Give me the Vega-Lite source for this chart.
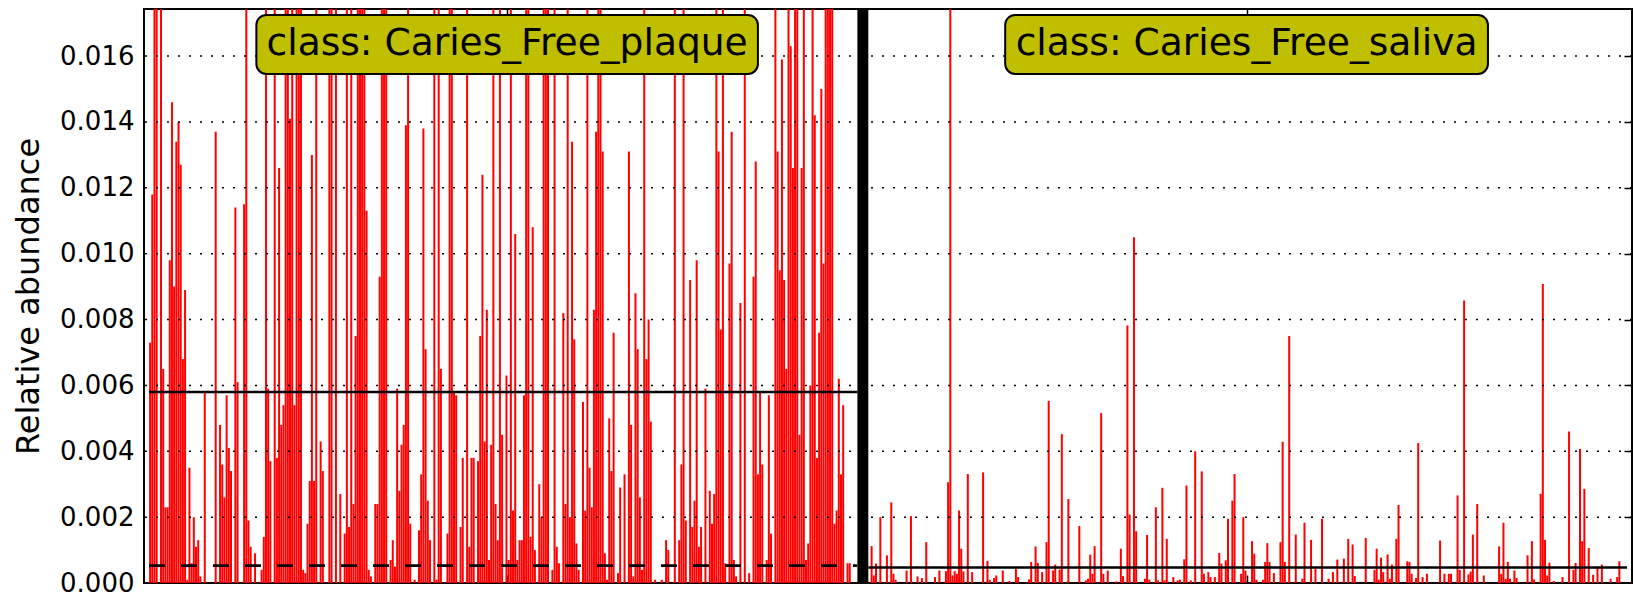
{
  "$schema": "https://vega.github.io/schema/vega-lite/v6.json",
  "width": 1488,
  "height": 574,
  "autosize": "none",
  "padding": {"left": 144, "top": 9, "right": 1, "bottom": 14},
  "background": "white",
  "config": {
    "font": "DejaVu Sans",
    "view": {"stroke": "black", "strokeWidth": 2},
    "axis": {"labelFont": "DejaVu Sans", "titleFont": "DejaVu Sans", "labelColor": "black", "titleColor": "black"}
  },
  "datasets": {
    "bars": [
{"c":"P","x":0,"v":0.0073},{"c":"P","x":1,"v":0.0118},{"c":"P","x":2,"v":0.03},{"c":"P","x":3,"v":0.03},{"c":"P","x":5,"v":0.03},{"c":"P","x":6,"v":0.0065},{"c":"P","x":7,"v":0.0023},{"c":"P","x":8,"v":0.0023},{"c":"P","x":9,"v":0.0098},{"c":"P","x":10,"v":0.0146},{"c":"P","x":11,"v":0.009},{"c":"P","x":12,"v":0.0134},{"c":"P","x":13,"v":0.014},{"c":"P","x":14,"v":0.0127},{"c":"P","x":15,"v":0.0068},{"c":"P","x":16,"v":0.0089},{"c":"P","x":17,"v":0.0001},{"c":"P","x":18,"v":0.0035},{"c":"P","x":19,"v":0.0006},{"c":"P","x":20,"v":0.002},{"c":"P","x":21,"v":0.0011},{"c":"P","x":22,"v":0.0013},{"c":"P","x":23,"v":0.0002},{"c":"P","x":25,"v":0.0058},{"c":"P","x":30,"v":0.0137},{"c":"P","x":32,"v":0.0048},{"c":"P","x":33,"v":0.0036},{"c":"P","x":34,"v":0.0026},{"c":"P","x":35,"v":0.0057},{"c":"P","x":36,"v":0.0041},{"c":"P","x":37,"v":0.0034},{"c":"P","x":39,"v":0.0114},{"c":"P","x":40,"v":0.0061},{"c":"P","x":43,"v":0.0115},{"c":"P","x":44,"v":0.03},{"c":"P","x":45,"v":0.0019},{"c":"P","x":46,"v":0.0011},{"c":"P","x":48,"v":0.0009},{"c":"P","x":51,"v":0.0004},{"c":"P","x":52,"v":0.0014},{"c":"P","x":53,"v":0.03},{"c":"P","x":54,"v":0.0059},{"c":"P","x":55,"v":0.0037},{"c":"P","x":57,"v":0.03},{"c":"P","x":58,"v":0.0038},{"c":"P","x":59,"v":0.0126},{"c":"P","x":60,"v":0.0048},{"c":"P","x":61,"v":0.0054},{"c":"P","x":62,"v":0.03},{"c":"P","x":63,"v":0.03},{"c":"P","x":64,"v":0.0141},{"c":"P","x":65,"v":0.03},{"c":"P","x":66,"v":0.0054},{"c":"P","x":67,"v":0.03},{"c":"P","x":68,"v":0.03},{"c":"P","x":69,"v":0.03},{"c":"P","x":70,"v":0.0004},{"c":"P","x":71,"v":0.0003},{"c":"P","x":72,"v":0.0018},{"c":"P","x":73,"v":0.0031},{"c":"P","x":74,"v":0.013},{"c":"P","x":75,"v":0.0031},{"c":"P","x":76,"v":0.03},{"c":"P","x":78,"v":0.0043},{"c":"P","x":79,"v":0.0034},{"c":"P","x":82,"v":0.03},{"c":"P","x":83,"v":0.03},{"c":"P","x":85,"v":0.03},{"c":"P","x":87,"v":0.0027},{"c":"P","x":89,"v":0.0015},{"c":"P","x":90,"v":0.03},{"c":"P","x":91,"v":0.0017},{"c":"P","x":92,"v":0.03},{"c":"P","x":93,"v":0.0024},{"c":"P","x":94,"v":0.0075},{"c":"P","x":95,"v":0.03},{"c":"P","x":96,"v":0.03},{"c":"P","x":97,"v":0.03},{"c":"P","x":98,"v":0.03},{"c":"P","x":99,"v":0.0113},{"c":"P","x":100,"v":0.0004},{"c":"P","x":101,"v":0.0002},{"c":"P","x":103,"v":0.0024},{"c":"P","x":104,"v":0.0024},{"c":"P","x":105,"v":0.0093},{"c":"P","x":106,"v":0.03},{"c":"P","x":107,"v":0.03},{"c":"P","x":108,"v":0.03},{"c":"P","x":110,"v":0.0007},{"c":"P","x":111,"v":0.0013},{"c":"P","x":112,"v":0.0005},{"c":"P","x":113,"v":0.0059},{"c":"P","x":114,"v":0.0028},{"c":"P","x":115,"v":0.0042},{"c":"P","x":116,"v":0.0048},{"c":"P","x":117,"v":0.0139},{"c":"P","x":118,"v":0.03},{"c":"P","x":119,"v":0.0018},{"c":"P","x":121,"v":0.0001},{"c":"P","x":123,"v":0.0016},{"c":"P","x":124,"v":0.0033},{"c":"P","x":125,"v":0.0138},{"c":"P","x":126,"v":0.0071},{"c":"P","x":127,"v":0.0025},{"c":"P","x":128,"v":0.0013},{"c":"P","x":130,"v":0.03},{"c":"P","x":131,"v":0.0001},{"c":"P","x":132,"v":0.03},{"c":"P","x":133,"v":0.0065},{"c":"P","x":136,"v":0.0015},{"c":"P","x":137,"v":0.03},{"c":"P","x":138,"v":0.03},{"c":"P","x":139,"v":0.0058},{"c":"P","x":140,"v":0.0057},{"c":"P","x":142,"v":0.0017},{"c":"P","x":143,"v":0.0038},{"c":"P","x":145,"v":0.03},{"c":"P","x":146,"v":0.0011},{"c":"P","x":147,"v":0.0038},{"c":"P","x":148,"v":0.0038},{"c":"P","x":150,"v":0.0037},{"c":"P","x":151,"v":0.0075},{"c":"P","x":152,"v":0.0124},{"c":"P","x":153,"v":0.0043},{"c":"P","x":154,"v":0.0083},{"c":"P","x":155,"v":0.0007},{"c":"P","x":156,"v":0.0042},{"c":"P","x":157,"v":0.03},{"c":"P","x":158,"v":0.0024},{"c":"P","x":159,"v":0.0013},{"c":"P","x":160,"v":0.03},{"c":"P","x":161,"v":0.0045},{"c":"P","x":163,"v":0.0063},{"c":"P","x":164,"v":0.0007},{"c":"P","x":165,"v":0.03},{"c":"P","x":166,"v":0.0022},{"c":"P","x":167,"v":0.0106},{"c":"P","x":168,"v":0.0007},{"c":"P","x":169,"v":0.0013},{"c":"P","x":170,"v":0.0013},{"c":"P","x":171,"v":0.0057},{"c":"P","x":172,"v":0.03},{"c":"P","x":173,"v":0.03},{"c":"P","x":174,"v":0.0014},{"c":"P","x":175,"v":0.0108},{"c":"P","x":176,"v":0.001},{"c":"P","x":178,"v":0.003},{"c":"P","x":179,"v":0.002},{"c":"P","x":180,"v":0.03},{"c":"P","x":181,"v":0.03},{"c":"P","x":182,"v":0.03},{"c":"P","x":184,"v":0.0004},{"c":"P","x":185,"v":0.03},{"c":"P","x":186,"v":0.0011},{"c":"P","x":187,"v":0.0006},{"c":"P","x":189,"v":0.0082},{"c":"P","x":190,"v":0.0024},{"c":"P","x":191,"v":0.03},{"c":"P","x":192,"v":0.002},{"c":"P","x":193,"v":0.0134},{"c":"P","x":194,"v":0.0074},{"c":"P","x":195,"v":0.0012},{"c":"P","x":196,"v":0.0004},{"c":"P","x":198,"v":0.0055},{"c":"P","x":199,"v":0.0022},{"c":"P","x":200,"v":0.03},{"c":"P","x":201,"v":0.0035},{"c":"P","x":202,"v":0.0023},{"c":"P","x":203,"v":0.0083},{"c":"P","x":204,"v":0.0137},{"c":"P","x":205,"v":0.03},{"c":"P","x":206,"v":0.03},{"c":"P","x":207,"v":0.0131},{"c":"P","x":208,"v":0.0009},{"c":"P","x":209,"v":0.0001},{"c":"P","x":210,"v":0.005},{"c":"P","x":211,"v":0.0034},{"c":"P","x":212,"v":0.0076},{"c":"P","x":214,"v":0.0003},{"c":"P","x":215,"v":0.0029},{"c":"P","x":217,"v":0.0033},{"c":"P","x":219,"v":0.0131},{"c":"P","x":220,"v":0.0048},{"c":"P","x":221,"v":0.0002},{"c":"P","x":222,"v":0.0088},{"c":"P","x":223,"v":0.0071},{"c":"P","x":224,"v":0.0026},{"c":"P","x":225,"v":0.0004},{"c":"P","x":226,"v":0.03},{"c":"P","x":227,"v":0.0068},{"c":"P","x":228,"v":0.008},{"c":"P","x":229,"v":0.0049},{"c":"P","x":231,"v":0.0001},{"c":"P","x":234,"v":0.0001},{"c":"P","x":236,"v":0.0013},{"c":"P","x":237,"v":0.001},{"c":"P","x":240,"v":0.03},{"c":"P","x":242,"v":0.0013},{"c":"P","x":243,"v":0.0036},{"c":"P","x":244,"v":0.03},{"c":"P","x":245,"v":0.0019},{"c":"P","x":247,"v":0.0092},{"c":"P","x":248,"v":0.0017},{"c":"P","x":249,"v":0.0025},{"c":"P","x":250,"v":0.0098},{"c":"P","x":251,"v":0.0011},{"c":"P","x":252,"v":0.0017},{"c":"P","x":254,"v":0.0059},{"c":"P","x":256,"v":0.0028},{"c":"P","x":257,"v":0.0018},{"c":"P","x":258,"v":0.0027},{"c":"P","x":259,"v":0.03},{"c":"P","x":260,"v":0.0131},{"c":"P","x":261,"v":0.0077},{"c":"P","x":262,"v":0.03},{"c":"P","x":263,"v":0.0006},{"c":"P","x":265,"v":0.0097},{"c":"P","x":266,"v":0.0137},{"c":"P","x":267,"v":0.0007},{"c":"P","x":268,"v":0.0002},{"c":"P","x":270,"v":0.0085},{"c":"P","x":272,"v":0.03},{"c":"P","x":274,"v":0.0003},{"c":"P","x":276,"v":0.0093},{"c":"P","x":277,"v":0.0128},{"c":"P","x":278,"v":0.0033},{"c":"P","x":279,"v":0.0058},{"c":"P","x":280,"v":0.0036},{"c":"P","x":282,"v":0.0007},{"c":"P","x":283,"v":0.0057},{"c":"P","x":284,"v":0.0015},{"c":"P","x":286,"v":0.03},{"c":"P","x":287,"v":0.0131},{"c":"P","x":288,"v":0.0095},{"c":"P","x":289,"v":0.0159},{"c":"P","x":290,"v":0.0092},{"c":"P","x":291,"v":0.0065},{"c":"P","x":292,"v":0.03},{"c":"P","x":293,"v":0.0163},{"c":"P","x":294,"v":0.0126},{"c":"P","x":295,"v":0.03},{"c":"P","x":296,"v":0.03},{"c":"P","x":297,"v":0.0045},{"c":"P","x":298,"v":0.0126},{"c":"P","x":299,"v":0.03},{"c":"P","x":300,"v":0.0007},{"c":"P","x":301,"v":0.0012},{"c":"P","x":302,"v":0.006},{"c":"P","x":303,"v":0.03},{"c":"P","x":304,"v":0.0142},{"c":"P","x":305,"v":0.0038},{"c":"P","x":306,"v":0.0076},{"c":"P","x":307,"v":0.015},{"c":"P","x":308,"v":0.0097},{"c":"P","x":309,"v":0.03},{"c":"P","x":310,"v":0.03},{"c":"P","x":311,"v":0.03},{"c":"P","x":312,"v":0.03},{"c":"P","x":313,"v":0.0018},{"c":"P","x":314,"v":0.0022},{"c":"P","x":315,"v":0.0062},{"c":"P","x":316,"v":0.0033},{"c":"P","x":317,"v":0.0054},{"c":"P","x":319,"v":0.0006},{"c":"P","x":320,"v":0.0006},
{"c":"S","x":330,"v":0.00112},{"c":"S","x":331,"v":0.00023},{"c":"S","x":332,"v":0.00059},{"c":"S","x":334,"v":0.002},{"c":"S","x":337,"v":0.00084},{"c":"S","x":339,"v":0.00245},{"c":"S","x":340,"v":0.00028},{"c":"S","x":341,"v":0.0001},{"c":"S","x":346,"v":0.00038},{"c":"S","x":348,"v":0.00203},{"c":"S","x":351,"v":0.0002},{"c":"S","x":353,"v":0.00015},{"c":"S","x":355,"v":0.00124},{"c":"S","x":359,"v":0.00018},{"c":"S","x":361,"v":0.00038},{"c":"S","x":364,"v":0.00036},{"c":"S","x":365,"v":0.00306},{"c":"S","x":366,"v":0.025},{"c":"S","x":367,"v":0.00023},{"c":"S","x":368,"v":0.00036},{"c":"S","x":369,"v":0.00028},{"c":"S","x":370,"v":0.0022},{"c":"S","x":371,"v":0.00104},{"c":"S","x":372,"v":0.00035},{"c":"S","x":374,"v":0.00331},{"c":"S","x":376,"v":0.00033},{"c":"S","x":381,"v":0.00336},{"c":"S","x":383,"v":0.00067},{"c":"S","x":384,"v":0.0001},{"c":"S","x":386,"v":0.00015},{"c":"S","x":387,"v":0.00023},{"c":"S","x":390,"v":0.00038},{"c":"S","x":393,"v":0.00006},{"c":"S","x":396,"v":0.00043},{"c":"S","x":397,"v":0.00018},{"c":"S","x":402,"v":0.00011},{"c":"S","x":403,"v":0.00064},{"c":"S","x":405,"v":0.00111},{"c":"S","x":406,"v":0.00061},{"c":"S","x":408,"v":0.00033},{"c":"S","x":410,"v":0.00124},{"c":"S","x":411,"v":0.00553},{"c":"S","x":413,"v":0.00038},{"c":"S","x":414,"v":0.00056},{"c":"S","x":416,"v":0.00041},{"c":"S","x":417,"v":0.00452},{"c":"S","x":420,"v":0.00255},{"c":"S","x":425,"v":0.00173},{"c":"S","x":428,"v":0.00008},{"c":"S","x":429,"v":0.00013},{"c":"S","x":430,"v":0.00086},{"c":"S","x":431,"v":0.00028},{"c":"S","x":432,"v":0.00112},{"c":"S","x":435,"v":0.00516},{"c":"S","x":436,"v":0.00028},{"c":"S","x":438,"v":0.00038},{"c":"S","x":442,"v":0.00005},{"c":"S","x":444,"v":0.00104},{"c":"S","x":445,"v":0.00021},{"c":"S","x":447,"v":0.00782},{"c":"S","x":448,"v":0.00208},{"c":"S","x":450,"v":0.0105},{"c":"S","x":451,"v":0.00157},{"c":"S","x":455,"v":0.00013},{"c":"S","x":456,"v":0.00146},{"c":"S","x":457,"v":0.0001},{"c":"S","x":460,"v":0.0023},{"c":"S","x":461,"v":0.00008},{"c":"S","x":463,"v":0.00289},{"c":"S","x":464,"v":0.00008},{"c":"S","x":465,"v":0.00134},{"c":"S","x":468,"v":0.00018},{"c":"S","x":470,"v":0.00008},{"c":"S","x":471,"v":0.0001},{"c":"S","x":473,"v":0.00072},{"c":"S","x":474,"v":0.00296},{"c":"S","x":476,"v":0.00008},{"c":"S","x":478,"v":0.004},{"c":"S","x":481,"v":0.00339},{"c":"S","x":482,"v":0.00028},{"c":"S","x":484,"v":0.00033},{"c":"S","x":485,"v":0.00018},{"c":"S","x":487,"v":0.00018},{"c":"S","x":489,"v":0.00091},{"c":"S","x":490,"v":0.00059},{"c":"S","x":492,"v":0.00069},{"c":"S","x":493,"v":0.00195},{"c":"S","x":495,"v":0.0025},{"c":"S","x":496,"v":0.00331},{"c":"S","x":499,"v":0.00028},{"c":"S","x":500,"v":0.002},{"c":"S","x":501,"v":0.00038},{"c":"S","x":504,"v":0.00127},{"c":"S","x":505,"v":0.00089},{"c":"S","x":506,"v":0.0001},{"c":"S","x":509,"v":0.0001},{"c":"S","x":510,"v":0.00064},{"c":"S","x":511,"v":0.00121},{"c":"S","x":512,"v":0.00064},{"c":"S","x":514,"v":0.0003},{"c":"S","x":517,"v":0.00124},{"c":"S","x":518,"v":0.00429},{"c":"S","x":519,"v":0.00064},{"c":"S","x":521,"v":0.0075},{"c":"S","x":524,"v":0.00147},{"c":"S","x":527,"v":0.00013},{"c":"S","x":528,"v":0.00183},{"c":"S","x":531,"v":0.00131},{"c":"S","x":533,"v":0.00043},{"c":"S","x":536,"v":0.00195},{"c":"S","x":539,"v":0.00013},{"c":"S","x":541,"v":0.00033},{"c":"S","x":543,"v":0.00071},{"c":"S","x":546,"v":0.00074},{"c":"S","x":548,"v":0.00134},{"c":"S","x":550,"v":0.00117},{"c":"S","x":551,"v":0.00021},{"c":"S","x":556,"v":0.00137},{"c":"S","x":560,"v":0.0004},{"c":"S","x":561,"v":0.00104},{"c":"S","x":562,"v":0.0001},{"c":"S","x":563,"v":0.00077},{"c":"S","x":564,"v":0.00033},{"c":"S","x":566,"v":0.00087},{"c":"S","x":567,"v":0.00013},{"c":"S","x":568,"v":0.00056},{"c":"S","x":570,"v":0.00134},{"c":"S","x":571,"v":0.00237},{"c":"S","x":575,"v":0.00066},{"c":"S","x":576,"v":0.00064},{"c":"S","x":577,"v":0.00028},{"c":"S","x":579,"v":0.00015},{"c":"S","x":580,"v":0.00425},{"c":"S","x":582,"v":0.00018},{"c":"S","x":584,"v":0.00028},{"c":"S","x":590,"v":0.00129},{"c":"S","x":592,"v":0.00028},{"c":"S","x":594,"v":0.00028},{"c":"S","x":595,"v":0.00028},{"c":"S","x":598,"v":0.00266},{"c":"S","x":599,"v":0.0004},{"c":"S","x":601,"v":0.00858},{"c":"S","x":603,"v":0.00026},{"c":"S","x":604,"v":0.00035},{"c":"S","x":605,"v":0.00147},{"c":"S","x":607,"v":0.0024},{"c":"S","x":610,"v":0.00023},{"c":"S","x":617,"v":0.00111},{"c":"S","x":618,"v":0.00028},{"c":"S","x":619,"v":0.00183},{"c":"S","x":620,"v":0.00013},{"c":"S","x":621,"v":0.00064},{"c":"S","x":622,"v":0.00013},{"c":"S","x":624,"v":0.00038},{"c":"S","x":625,"v":0.00015},{"c":"S","x":630,"v":0.00084},{"c":"S","x":632,"v":0.00127},{"c":"S","x":633,"v":0.00011},{"c":"S","x":636,"v":0.00271},{"c":"S","x":637,"v":0.00908},{"c":"S","x":638,"v":0.00131},{"c":"S","x":639,"v":0.00023},{"c":"S","x":640,"v":0.00062},{"c":"S","x":642,"v":0.00006},{"c":"S","x":646,"v":0.00018},{"c":"S","x":649,"v":0.0046},{"c":"S","x":651,"v":0.0004},{"c":"S","x":652,"v":0.00061},{"c":"S","x":654,"v":0.00407},{"c":"S","x":655,"v":0.00127},{"c":"S","x":656,"v":0.00286},{"c":"S","x":658,"v":0.00106},{"c":"S","x":660,"v":0.00025},{"c":"S","x":662,"v":0.00048},{"c":"S","x":664,"v":0.00056},{"c":"S","x":668,"v":0.00013},{"c":"S","x":671,"v":0.00018},{"c":"S","x":672,"v":0.00066}
    ],
    "grid": [{"g":0.002},{"g":0.004},{"g":0.006},{"g":0.008},{"g":0.010},{"g":0.012},{"g":0.014},{"g":0.016}],
    "sep": [{"x":323.5,"x2":328.5,"y":0,"y2":0.01743}],
    "stats": [
      {"c":"P","stat":"mean","x":-0.5,"x2":323.5,"v":0.0058},
      {"c":"P","stat":"median","x":-0.5,"x2":323.5,"v":0.00053},
      {"c":"S","stat":"mean","x":328.5,"x2":675.5,"v":0.00047}
    ],
    "labels": [
      {"label":"class: Caries_Free_plaque","x":48.6,"x2":278.0,"xc":163.3,"y":0.01546,"y2":0.01725,"yb":0.01603},
      {"label":"class: Caries_Free_saliva","x":391.1,"x2":611.9,"xc":501.5,"y":0.01546,"y2":0.01725,"yb":0.01603}
    ]
  },
  "layer": [
    {
      "data": {"name": "bars"},
      "mark": {"type": "bar", "color": "#ff0000", "width": 2.0, "clip": true},
      "encoding": {
        "x": {"field": "x", "type": "quantitative", "scale": {"domain": [-0.5, 675.5], "nice": false, "zero": false},
              "axis": {"orient": "bottom", "values": [163.3, 501.5], "labels": false, "ticks": true, "tickSize": -8, "tickColor": "black", "tickWidth": 1.5, "domain": false, "grid": false, "title": null}},
        "y": {"field": "v", "type": "quantitative", "scale": {"domain": [0, 0.01743], "nice": false, "zero": true},
              "axis": {"orient": "left", "values": [0, 0.002, 0.004, 0.006, 0.008, 0.010, 0.012, 0.014, 0.016], "format": ".3f",
                       "labelFontSize": 26, "labelPadding": 10, "ticks": false, "domain": false, "grid": false,
                       "title": "Relative abundance", "titleFontSize": 32, "titleFontWeight": "normal", "titlePadding": 14}}
      }
    },
    {
      "data": {"name": "grid"},
      "mark": {"type": "rule", "color": "black", "strokeWidth": 1.5, "strokeDash": [2, 9]},
      "encoding": {
        "y": {"field": "g", "type": "quantitative", "scale": {"domain": [0, 0.01743], "nice": false}, "axis": null}
      }
    },
    {
      "data": {"name": "sep"},
      "mark": {"type": "rect", "color": "black"},
      "encoding": {
        "x": {"field": "x", "type": "quantitative", "scale": {"domain": [-0.5, 675.5], "nice": false, "zero": false},
              "axis": {"orient": "top", "values": [163.3, 501.5], "labels": false, "ticks": true, "tickSize": -8, "tickColor": "black", "tickWidth": 1.5, "domain": false, "grid": false, "title": null}},
        "x2": {"field": "x2"},
        "y": {"field": "y", "type": "quantitative", "scale": {"domain": [0, 0.01743], "nice": false},
              "axis": {"orient": "right", "values": [0.002, 0.004, 0.006, 0.008, 0.010, 0.012, 0.014, 0.016], "labels": false, "ticks": true, "tickSize": -8, "tickColor": "black", "tickWidth": 1.5, "domain": false, "grid": false, "title": null}},
        "y2": {"field": "y2"}
      }
    },
    {
      "data": {"name": "stats"},
      "mark": {"type": "rule", "color": "black", "strokeWidth": 2.7},
      "encoding": {
        "x": {"field": "x", "type": "quantitative", "scale": {"domain": [-0.5, 675.5], "nice": false, "zero": false}, "axis": null},
        "x2": {"field": "x2"},
        "y": {"field": "v", "type": "quantitative", "scale": {"domain": [0, 0.01743], "nice": false}, "axis": null},
        "strokeDash": {"field": "stat", "type": "nominal", "scale": {"domain": ["mean", "median"], "range": [[1, 0], [16, 16]]}, "legend": null}
      }
    },
    {
      "data": {"name": "labels"},
      "mark": {"type": "rect", "fill": "#bfbf00", "stroke": "black", "strokeWidth": 2, "cornerRadius": 10},
      "encoding": {
        "x": {"field": "x", "type": "quantitative", "scale": {"domain": [-0.5, 675.5], "nice": false, "zero": false}, "axis": null},
        "x2": {"field": "x2"},
        "y": {"field": "y", "type": "quantitative", "scale": {"domain": [0, 0.01743], "nice": false}, "axis": null},
        "y2": {"field": "y2"}
      }
    },
    {
      "data": {"name": "labels"},
      "mark": {"type": "text", "fontSize": 37.6, "font": "DejaVu Sans", "color": "black", "align": "center", "baseline": "alphabetic"},
      "encoding": {
        "x": {"field": "xc", "type": "quantitative", "scale": {"domain": [-0.5, 675.5], "nice": false, "zero": false}, "axis": null},
        "y": {"field": "yb", "type": "quantitative", "scale": {"domain": [0, 0.01743], "nice": false}, "axis": null},
        "text": {"field": "label"}
      }
    }
  ],
  "resolve": {"axis": {"x": "independent", "y": "independent"}}
}
